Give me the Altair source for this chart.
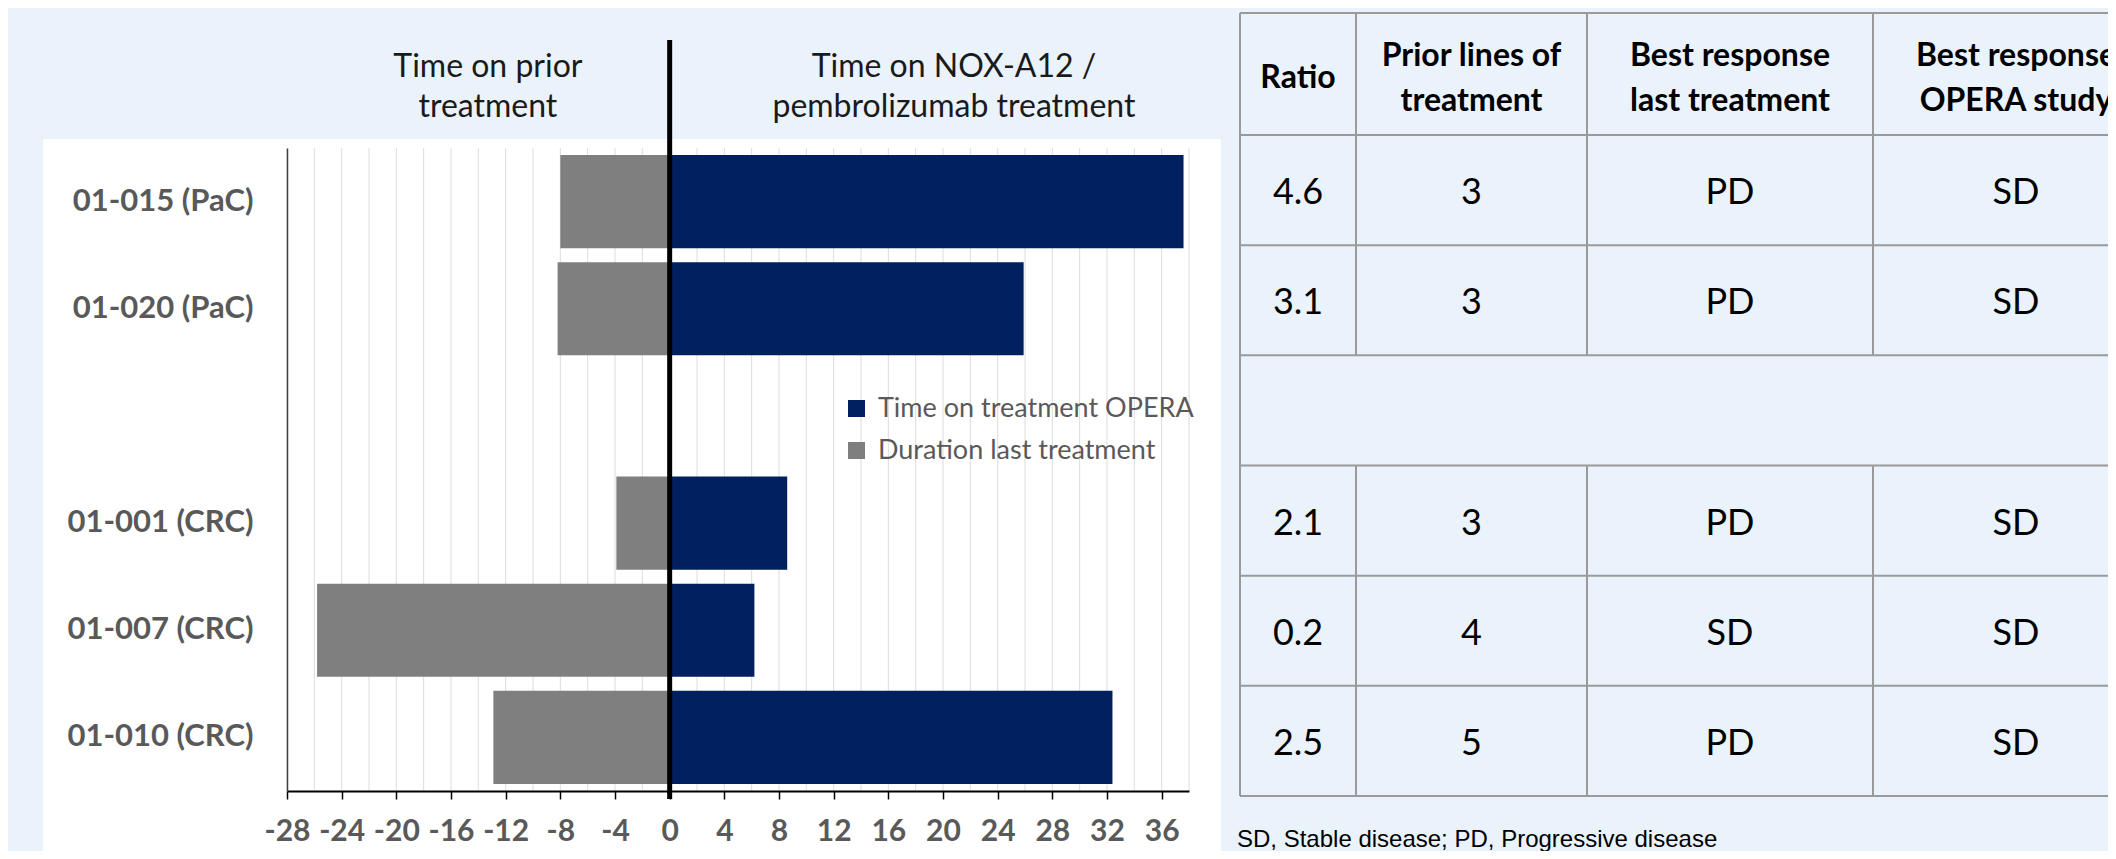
import altair as alt
import pandas as pd

# ---------------- data ----------------
patients = ["01-015 (PaC)", "01-020 (PaC)", "01-001 (CRC)", "01-007 (CRC)", "01-010 (CRC)"]
row_order = ["01-015 (PaC)", "01-020 (PaC)", " ", "01-001 (CRC)", "01-007 (CRC)", "01-010 (CRC)"]
duration_last = [-8.0, -8.2, -3.9, -25.8, -12.9]
time_opera = [37.6, 25.9, 8.6, 6.2, 32.4]
series_names = ["Time on treatment OPERA", "Duration last treatment"]
series_colors = ["#002060", "#7f7f7f"]
x_tick_values = [-28, -24, -20, -16, -12, -8, -4, 0, 4, 8, 12, 16, 20, 24, 28, 32, 36]
grid_values = [-28, -26, -24, -22, -20, -18, -16, -14, -12, -10, -8, -6, -4, -2, 0,
               2, 4, 6, 8, 10, 12, 14, 16, 18, 20, 22, 24, 26, 28, 30, 32, 34, 36, 38]
header_left = "Time on prior\ntreatment"
header_right = "Time on NOX-A12 /\npembrolizumab treatment"

table_columns = ["Ratio", "Prior lines of\ntreatment", "Best response\nlast treatment", "Best response\nOPERA study"]
ratio = ["4.6", "3.1", "", "2.1", "0.2", "2.5"]
prior_lines = ["3", "3", "", "3", "4", "5"]
best_response_last = ["PD", "PD", "", "PD", "SD", "PD"]
best_response_opera = ["SD", "SD", "", "SD", "SD", "SD"]
footnote = "SD, Stable disease; PD, Progressive disease"

# ---------------- tables for the library ----------------
bar_df = pd.DataFrame({
    "patient": patients * 2,
    "series": [series_names[1]] * len(patients) + [series_names[0]] * len(patients),
    "months": duration_last + time_opera,
})

columns_values = [ratio, prior_lines, best_response_last, best_response_opera]
cells = []
for c, name in enumerate(table_columns):
    kind = "head2" if "\n" in name else "head1"
    cells.append({"row": 0, "col": c, "text": name, "kind": kind})
for c, vals in enumerate(columns_values):
    for r, v in enumerate(vals):
        if v != "":
            cells.append({"row": r + 1, "col": c, "text": v, "kind": "body"})
cell_df = pd.DataFrame(cells)

n_rows = len(ratio) + 1
n_cols = len(table_columns)
empty_row = ratio.index("") + 1
lines = []
for r in range(n_rows + 1):
    lines.append({"x0": -0.5, "x1": n_cols - 0.5, "y0": r - 0.5, "y1": r - 0.5})
lines.append({"x0": -0.5, "x1": -0.5, "y0": -0.5, "y1": n_rows - 0.5})
for c in range(1, n_cols + 1):
    lines.append({"x0": c - 0.5, "x1": c - 0.5, "y0": -0.5, "y1": empty_row - 0.5})
    lines.append({"x0": c - 0.5, "x1": c - 0.5, "y0": empty_row + 0.5, "y1": n_rows - 0.5})
line_df = pd.DataFrame(lines)

# ---------------- layout / style ----------------
W, H = 902, 643
FONT = "Lato"
GRAY_TXT = "#595959"

x_scale = alt.Scale(domain=[-28, 38], nice=False, zero=False)
y_scale = alt.Scale(domain=row_order, paddingInner=0.13, paddingOuter=0.065)
tx = alt.Scale(domain=[-0.5, 0.5, 1.5, 2.5, 3.5], range=[953, 1069, 1300, 1586, 1872], nice=False, zero=False)
ty = alt.Scale(domain=[-0.5, 0.5, 6.5], range=[-135, -13, 648], nice=False, zero=False)

x_axis = alt.Axis(
    values=x_tick_values, labelExpr="toString(datum.value)", title=None, grid=False,
    domainColor="black", domainWidth=2, tickColor="black", tickWidth=1.5, tickSize=8,
    labelFont=FONT, labelFontWeight="bold", labelFontSize=30, labelColor=GRAY_TXT,
    labelPadding=17, zindex=1, labelFlush=False, labelOverlap=False)
y_axis = alt.Axis(
    title=None, ticks=False, tickSize=0, domainColor="#404040", domainWidth=1.5,
    labelFont=FONT, labelFontWeight="bold", labelFontSize=31, labelColor=GRAY_TXT,
    labelPadding=34, labelLimit=0, zindex=1, grid=False)

one = pd.DataFrame({"k": [0]})

white_box = alt.Chart(one).mark_rect(color="white").encode(
    x=alt.value(-244), x2=alt.value(934), y=alt.value(-9), y2=alt.value(720)
)

grid = alt.Chart(pd.DataFrame({"g": grid_values})).mark_rule(color="#dcdcdc", strokeWidth=1).encode(
    x=alt.X("g:Q", scale=x_scale, axis=x_axis), y=alt.value(0), y2=alt.value(H)
)

bars = alt.Chart(bar_df).mark_bar().encode(
    x=alt.X("months:Q", scale=x_scale, axis=x_axis),
    y=alt.Y("patient:N", scale=y_scale, sort=row_order, axis=y_axis),
    color=alt.Color("series:N", scale=alt.Scale(domain=series_names, range=series_colors),
                    legend=alt.Legend(orient="none", legendX=556, legendY=247, title=None,
                                      symbolType="square", symbolSize=289, symbolStrokeWidth=0,
                                      labelFont=FONT, labelFontSize=27, labelColor=GRAY_TXT,
                                      labelLimit=0, rowPadding=14, padding=0, labelOffset=8,
                                      direction="vertical")),
)

zero = alt.Chart(pd.DataFrame({"z": [0]})).mark_rule(color="black", strokeWidth=5).encode(
    x=alt.X("z:Q", scale=x_scale, axis=x_axis), y=alt.value(-108), y2=alt.value(H + 8)
)

hdr_style = dict(lineBreak="\n", fontSize=32, baseline="alphabetic", align="center",
                 lineHeight=40, color="#1a1a1a", font=FONT)
hdr_l = alt.Chart(pd.DataFrame({"t": [header_left]})).mark_text(**hdr_style).encode(
    x=alt.XDatum(-13.3, scale=x_scale, axis=x_axis), y=alt.value(-71), text="t:N")
hdr_r = alt.Chart(pd.DataFrame({"t": [header_right]})).mark_text(**hdr_style).encode(
    x=alt.XDatum(20.8, scale=x_scale, axis=x_axis), y=alt.value(-71), text="t:N")

bar_group = alt.layer(white_box, grid, bars, zero, hdr_l, hdr_r)

table_lines = alt.Chart(line_df).mark_rule(color="#9a9a9a", strokeWidth=2).encode(
    x=alt.X("x0:Q", scale=tx, axis=None), x2="x1:Q",
    y=alt.Y("y0:Q", scale=ty, axis=None), y2="y1:Q")

head_style = dict(font=FONT, fontWeight="bold", fontSize=32, lineBreak="\n", lineHeight=45,
                  baseline="middle", align="center", color="black")
table_head1 = alt.Chart(cell_df).transform_filter("datum.kind === 'head1'").mark_text(
    dy=4, **head_style).encode(
    x=alt.X("col:Q", scale=tx, axis=None), y=alt.Y("row:Q", scale=ty, axis=None), text="text:N")
table_head2 = alt.Chart(cell_df).transform_filter("datum.kind === 'head2'").mark_text(
    dy=-18, **head_style).encode(
    x=alt.X("col:Q", scale=tx, axis=None), y=alt.Y("row:Q", scale=ty, axis=None), text="text:N")

table_body = alt.Chart(cell_df).transform_filter("datum.kind === 'body'").mark_text(
    font=FONT, fontSize=36, baseline="middle", align="center", color="black", dy=3).encode(
    x=alt.X("col:Q", scale=tx, axis=None), y=alt.Y("row:Q", scale=ty, axis=None), text="text:N")

foot = alt.Chart(pd.DataFrame({"t": [footnote]})).mark_text(
    font="Liberation Sans, Arial, sans-serif", fontSize=24, align="left",
    baseline="alphabetic", color="black", dx=-3).encode(
    x=alt.XDatum(-0.5, scale=tx, axis=None), y=alt.value(699), text="t:N")

table_group = alt.layer(table_lines, table_head1, table_head2, table_body, foot)

chart = alt.layer(bar_group, table_group).resolve_scale(
    x="independent", y="independent"
).properties(
    width=W, height=H,
    padding={"left": 279, "top": 140, "right": 919, "bottom": 60},
    autosize=alt.AutoSizeParams(type="none"),
).configure(background="#eaf2fb", font=FONT).configure_view(stroke=None)

chart.save("out.html", embed_options={"renderer": "svg", "actions": False})
